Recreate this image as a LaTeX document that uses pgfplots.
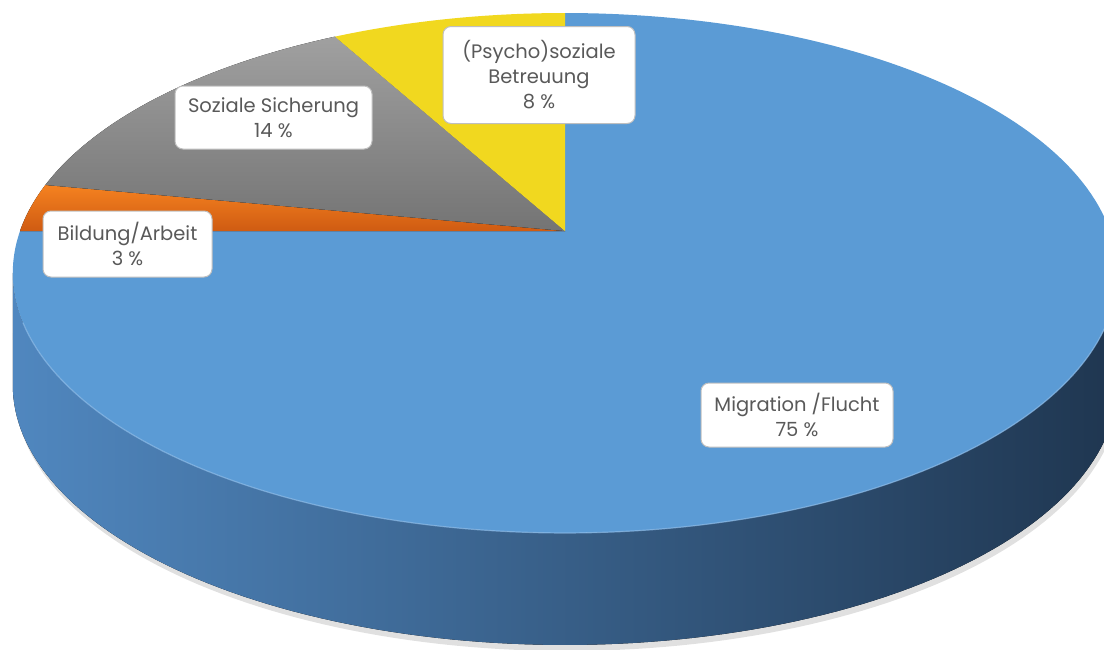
\documentclass[border=0pt]{standalone}
\usepackage{pgfplots}
\pgfplotsset{compat=1.18}
\usepackage{pgfplotstable}
\usepackage{fontspec}
\setmainfont{Poppins}

\definecolor{topblue}{HTML}{5B9BD5}
\definecolor{sideL}{HTML}{5087BF}
\definecolor{sideR}{HTML}{1F3650}
\definecolor{grayT}{HTML}{A0A0A0}
\definecolor{grayB}{HTML}{747474}
\definecolor{orT}{HTML}{F58220}
\definecolor{orB}{HTML}{CF5B12}
\definecolor{yel}{HTML}{F1D81F}
\definecolor{lbltext}{HTML}{595959}
\definecolor{lblborder}{HTML}{BFBFBF}
\definecolor{rim}{HTML}{8CBBE8}

\tikzset{lbl/.style={draw=lblborder, line width=1pt, fill=white, rounded corners=8pt,
    align=center, text=lbltext, font=\fontsize{19.5}{25}\selectfont,
    inner sep=0pt}}

\pgfplotstableread{
label value
Migration 75
Bildung 3
Soziale 14
Psycho 8
}\piedata

\begin{document}
\begin{tikzpicture}[declare function={
  px(\t)=565+545*sin(\t)/(1+0.1615*cos(\t));
  py(\t)=231-253.2*cos(\t)/(1+0.1615*cos(\t));
}]
\pgfplotstablegetelem{0}{value}\of\piedata \let\vA\pgfplotsretval
\pgfplotstablegetelem{1}{value}\of\piedata \let\vB\pgfplotsretval
\pgfplotstablegetelem{2}{value}\of\piedata \let\vC\pgfplotsretval
\pgfplotstablegetelem{3}{value}\of\piedata \let\vD\pgfplotsretval
\pgfmathsetmacro\aA{3.6*\vA}
\pgfmathsetmacro\aB{\aA+3.6*\vB}
\pgfmathsetmacro\aC{\aB+3.6*\vC}
\pgfmathsetmacro\aD{\aC+3.6*\vD}
\begin{axis}[
  width=1104pt, height=649pt, scale only axis,
  xmin=0, xmax=1104, ymin=0, ymax=649, y dir=reverse,
  hide axis, clip=true,
]
% soft shadow
\fill[black, opacity=0.12]
  plot[domain=99.29:260.71, samples=120, variable=\t] ({px(\t)+2},{py(\t)+118})
  -- plot[domain=260.71:99.29, samples=120, variable=\t] ({px(\t)},{py(\t)+60})
  -- cycle;
% side band (front)
\fill[left color=sideL, right color=sideR]
  plot[domain=99.29:260.71, samples=120, variable=\t] ({px(\t)},{py(\t)})
  -- plot[domain=260.71:99.29, samples=120, variable=\t] ({px(\t)},{py(\t)+112})
  -- cycle;
% top slices
\fill[topblue] (565,231) -- plot[domain=0:\aA, samples=200, variable=\t] ({px(\t)},{py(\t)}) -- cycle;
\fill[top color=orT, bottom color=orB] (565,231) -- plot[domain=\aA:\aB, samples=20, variable=\t] ({px(\t)},{py(\t)}) -- cycle;
\fill[top color=grayT, bottom color=grayB] (565,231) -- plot[domain=\aB:\aC, samples=60, variable=\t] ({px(\t)},{py(\t)}) -- cycle;
\fill[yel] (565,231) -- plot[domain=\aC:\aD, samples=40, variable=\t] ({px(\t)},{py(\t)}) -- cycle;
% rim highlight
\draw[rim, line width=1.2pt, opacity=0.7] plot[domain=110:250, samples=100, variable=\t] ({px(\t)},{py(\t)});
% labels
\node[lbl, minimum width=192pt, minimum height=97pt] at (539,75) {(Psycho)soziale\\Betreuung\\8 \%};
\node[lbl, minimum width=197pt, minimum height=63pt] at (273.5,117.5) {Soziale Sicherung\\14 \%};
\node[lbl, minimum width=169pt, minimum height=66pt] at (127.5,244) {Bildung/Arbeit\\3 \%};
\node[lbl, minimum width=192pt, minimum height=64pt] at (797,415) {Migration /Flucht\\75 \%};
\end{axis}
\pgfresetboundingbox
\path (current axis.south west) rectangle (current axis.north east);
\end{tikzpicture}
\end{document}
